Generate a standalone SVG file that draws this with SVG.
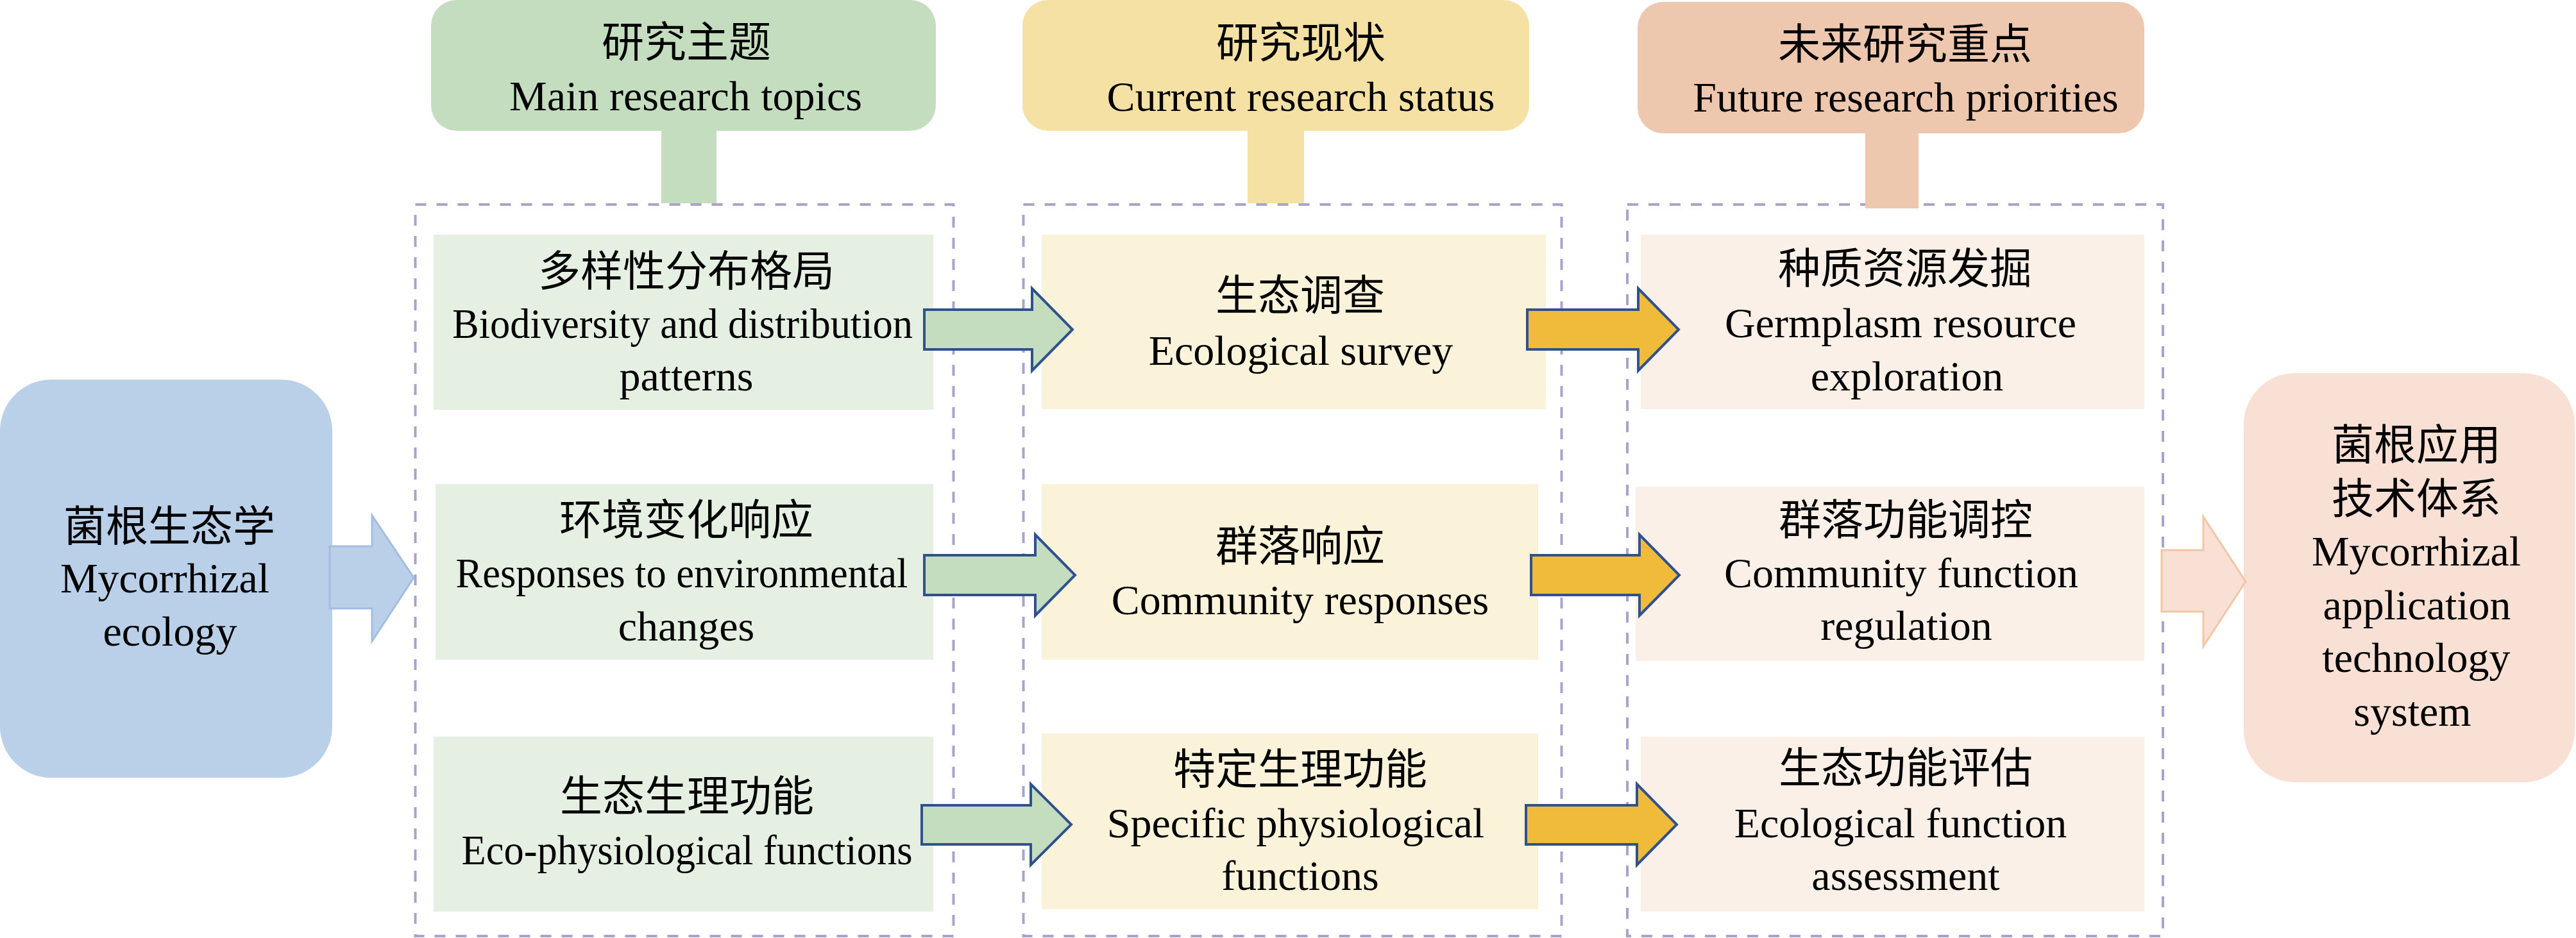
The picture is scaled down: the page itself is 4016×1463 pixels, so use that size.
<svg xmlns="http://www.w3.org/2000/svg" width="4016" height="1463" viewBox="0 0 4016 1463">
<style>
text{font-family:"Liberation Serif","Noto Sans CJK SC",serif;font-size:66px;fill:#000;text-anchor:middle}
.dash{fill:none;stroke:#A7A3CA;stroke-width:4;stroke-dasharray:17 16}
.ga{fill:#C3DDBE;stroke:#2F528F;stroke-width:4;stroke-linejoin:miter}
.ya{fill:#F0BA3A;stroke:#2F528F;stroke-width:4;stroke-linejoin:miter}
.gn{fill:#E5F0E3}
.yn{fill:#FAF2D9}
.on{fill:#FAF0E8}
</style>
<rect width="4016" height="1463" fill="#FFFFFF"/>

<g id="frames">
<rect class="dash" x="647.5" y="319" width="839" height="1141"/>
<rect class="dash" x="1595.5" y="319" width="839" height="1141"/>
<rect class="dash" x="2537" y="319" width="835" height="1141"/>
</g>

<g id="header-topics">
<rect x="672" y="0" width="787" height="204" rx="40" ry="40" fill="#C3DDBE"/>
<rect x="1031" y="200" width="86" height="117" fill="#C3DDBE"/>
<text x="1070" y="89">研究主题</text>
<text x="1069" y="172">Main research topics</text>
</g>
<g id="header-status">
<rect x="1594" y="0" width="790" height="204" rx="40" ry="40" fill="#F5E1A3"/>
<rect x="1945" y="200" width="88" height="117" fill="#F5E1A3"/>
<text x="2028" y="90">研究现状</text>
<text x="2028" y="173">Current research status</text>
</g>
<g id="header-future">
<rect x="2553" y="3" width="790" height="205" rx="40" ry="40" fill="#EEC8AE"/>
<rect x="2908" y="204" width="83" height="121" fill="#EEC8AE"/>
<text x="2970" y="92">未来研究重点</text>
<text x="2971" y="174">Future research priorities</text>
</g>

<g id="mycorrhizal-ecology">
<rect x="0" y="592" width="518" height="621" rx="80" ry="80" fill="#BACFE8"/>
<text x="264" y="844">菌根生态学</text>
<text x="257" y="924">Mycorrhizal</text>
<text x="265" y="1007">ecology</text>
</g>

<g id="application-system">
<rect x="3498" y="582" width="516" height="638" rx="80" ry="80" fill="#F8E0D4"/>
<text x="3767" y="717">菌根应用</text>
<text x="3767" y="801">技术体系</text>
<text x="3767" y="882">Mycorrhizal</text>
<text x="3768" y="966">application</text>
<text x="3767" y="1048">technology</text>
<text x="3761" y="1132">system</text>
</g>

<g id="topic-biodiversity">
<rect class="gn" x="676" y="366" width="779" height="273"/>
<text x="1070" y="446">多样性分布格局</text>
<text x="1064" y="527" textLength="718" lengthAdjust="spacingAndGlyphs">Biodiversity and distribution</text>
<text x="1070" y="609">patterns</text>
</g>
<g id="topic-environment">
<rect class="gn" x="679" y="755" width="776" height="274"/>
<text x="1070" y="834">环境变化响应</text>
<text x="1063" y="916" textLength="705" lengthAdjust="spacingAndGlyphs">Responses to environmental</text>
<text x="1070" y="999">changes</text>
</g>
<g id="topic-ecophys">
<rect class="gn" x="676" y="1149" width="779" height="273"/>
<text x="1071" y="1265">生态生理功能</text>
<text x="1071" y="1348" textLength="703" lengthAdjust="spacingAndGlyphs">Eco-physiological functions</text>
</g>

<g id="status-survey">
<rect class="yn" x="1624" y="366" width="786" height="272"/>
<text x="2027" y="484">生态调查</text>
<text x="2028" y="569">Ecological survey</text>
</g>
<g id="status-community">
<rect class="yn" x="1624" y="755" width="774" height="274"/>
<text x="2027" y="875">群落响应</text>
<text x="2027" y="958">Community responses</text>
</g>
<g id="status-physiological">
<rect class="yn" x="1624" y="1144" width="774" height="274"/>
<text x="2027" y="1223">特定生理功能</text>
<text x="2020" y="1306">Specific physiological</text>
<text x="2027" y="1388">functions</text>
</g>

<g id="future-germplasm">
<rect class="on" x="2558" y="366" width="785" height="272"/>
<text x="2970" y="442">种质资源发掘</text>
<text x="2963" y="526">Germplasm resource</text>
<text x="2973" y="609">exploration</text>
</g>
<g id="future-regulation">
<rect class="on" x="2550" y="759" width="793" height="272"/>
<text x="2971" y="834">群落功能调控</text>
<text x="2964" y="916">Community function</text>
<text x="2972" y="998">regulation</text>
</g>
<g id="future-assessment">
<rect class="on" x="2558" y="1149" width="785" height="273"/>
<text x="2971" y="1221">生态功能评估</text>
<text x="2963" y="1306">Ecological function</text>
<text x="2971" y="1388">assessment</text>
</g>

<g id="connectors">
<polygon points="514,852 580,852 580,804 645,901 580,1000 580,949 514,949" fill="#BACFE8" stroke="#A3BDE2" stroke-width="3"/>
<polygon class="ga" points="1441,483 1609,483 1609,450 1672,514 1609,578 1609,545 1441,545"/>
<polygon class="ga" points="1441,866 1614,866 1614,834 1676,897 1614,960 1614,928 1441,928"/>
<polygon class="ga" points="1437,1256 1607,1256 1607,1223 1670,1286 1607,1349 1607,1317 1437,1317"/>
<polygon class="ya" points="2381,483 2554,483 2554,450 2617,514 2554,578 2554,545 2381,545"/>
<polygon class="ya" points="2387,866 2556,866 2556,834 2618,897 2556,960 2556,928 2387,928"/>
<polygon class="ya" points="2379,1256 2552,1256 2552,1223 2614,1286 2552,1349 2552,1317 2379,1317"/>
<polygon points="3370,858 3435,858 3435,806 3501,907 3435,1008 3435,954 3370,954" fill="#F8E0D4" stroke="#F0C6A6" stroke-width="3"/>
</g>
</svg>
